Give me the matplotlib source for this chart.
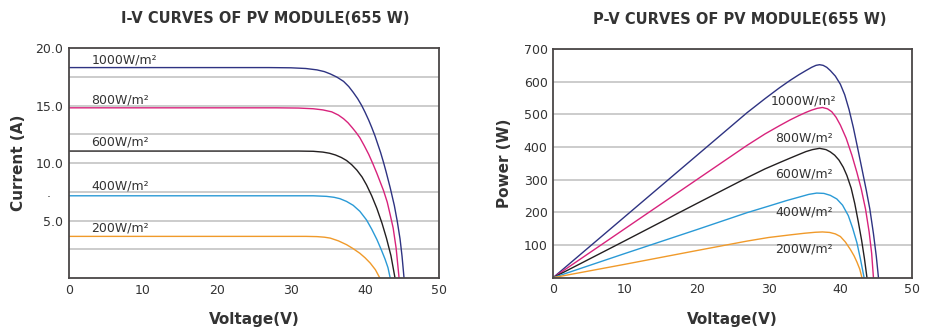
import matplotlib
matplotlib.use("Agg")
import matplotlib.pyplot as plt
import numpy as np

# irradiance levels and colours
levels = ["1000W/m²", "800W/m²", "600W/m²", "400W/m²", "200W/m²"]
colors = ["#2e3382", "#d8237c", "#231f20", "#2a9ad6", "#f09a2a"]

# I-V curves
iv_v1000 = [0, 27, 30, 32, 33.5, 34.5, 35.3, 36.2, 37.1, 37.8, 38.4, 39.0, 39.55, 40.0, 40.5, 40.9,
            41.35, 41.7, 42.1, 42.5, 42.84, 43.4, 43.96, 44.35, 44.73, 45.0, 45.27]
iv_i1000 = [18.3, 18.3, 18.28, 18.22, 18.1, 17.95, 17.75, 17.47, 17.1, 16.65, 16.15, 15.6, 15.0, 14.42,
            13.72, 13.1, 12.35, 11.68, 10.92, 10.05, 9.25, 7.85, 6.3, 4.95, 3.4, 1.9, 0]
iv_v800 = [0, 28, 31, 33, 34.3, 35.5, 36.4, 37.1, 37.7, 38.3, 38.8, 39.3, 39.9, 40.5, 41.05, 41.6,
           42.05, 42.5, 43.0, 43.4, 43.8, 44.2, 44.6]
iv_i800 = [14.8, 14.8, 14.78, 14.72, 14.62, 14.45, 14.17, 13.85, 13.5, 13.05, 12.65, 12.2, 11.5, 10.75,
           9.95, 9.1, 8.35, 7.6, 6.6, 5.5, 4.35, 2.6, 0]
iv_v600 = [0, 31, 33, 34.3, 35.2, 36.0, 36.8, 37.5, 38.2, 38.9, 39.6, 40.2, 40.9, 41.6, 42.3, 42.9,
           43.5, 44.05]
iv_i600 = [11.04, 11.04, 11.02, 10.95, 10.85, 10.7, 10.48, 10.22, 9.85, 9.38, 8.78, 8.1, 7.15, 6.05,
           4.75, 3.45, 1.95, 0]
iv_v400 = [0, 33, 34.8, 35.8, 36.6, 37.5, 38.4, 39.3, 40.2, 40.9, 41.6, 42.2, 42.7, 43.1, 43.4]
iv_i400 = [7.15, 7.15, 7.1, 7.02, 6.9, 6.66, 6.32, 5.8, 5.05, 4.25, 3.35, 2.45, 1.65, 0.9, 0]
iv_v200 = [0, 32, 33.5, 34.5, 35.3, 36.4, 37.5, 38.4, 39.3, 40.0, 40.7, 41.4, 42.0]
iv_i200 = [3.62, 3.62, 3.6, 3.55, 3.47, 3.23, 2.9, 2.55, 2.15, 1.76, 1.3, 0.72, 0]

# P-V curves
pv_v1000 = [0, 10, 20, 27, 29.5, 31.5, 33, 34.2, 35.2, 36.0, 36.6, 37.1, 37.6, 38.1, 38.6, 39.3, 40.0,
            40.6, 41.2, 41.8, 42.4, 43.0, 43.6, 44.1, 44.6, 45.0, 45.3]
pv_p1000 = [0, 187, 374, 505, 548, 581, 604, 621, 634, 644, 650, 652, 650, 644, 634, 617, 592,
            560, 515, 460, 397, 333, 268, 210, 135, 65, 0]
pv_v800 = [0, 10, 20, 27, 29.5, 31.5, 33, 34.2, 35.2, 36.0, 36.8, 37.5, 38.2, 38.8, 39.4, 40.0, 40.8,
           41.6, 42.3, 42.9, 43.5, 44.0, 44.35, 44.6]
pv_p800 = [0, 150, 300, 405, 440, 465, 483, 496, 506, 513, 518.5, 521, 517, 508, 491, 467, 427,
           375, 322, 272, 210, 140, 75, 0]
pv_v600 = [0, 10, 20, 27, 29.5, 31.5, 33, 34.2, 35.2, 36.1, 37.1, 38.0, 38.6, 39.2, 39.8, 40.4, 40.9,
           41.5, 42.0, 42.5, 42.95, 43.35, 43.7]
pv_p600 = [0, 113, 227, 306, 333, 352, 366, 377, 386, 392, 396, 392, 385, 375, 360, 338, 313,
           274, 227, 170, 115, 58, 0]
pv_v400 = [0, 10, 20, 27, 30, 32.5, 34.3, 35.6, 36.7, 37.7, 38.6, 39.5, 40.3, 41.1, 41.7, 42.3, 42.8, 43.3]
pv_p400 = [0, 74, 147, 199, 219, 236, 247, 255, 259, 258, 252, 241, 222, 190, 152, 107, 56, 0]
pv_v200 = [0, 10, 20, 27, 30, 33, 35, 36.5, 37.5, 38.5, 39.3, 40.0, 40.7, 41.4, 41.9, 42.3, 42.7, 43.0]
pv_p200 = [0, 41, 83, 112, 123, 131, 136, 139, 140, 138.5, 134, 126, 109, 86, 67, 48, 26, 0]

iv_v = [iv_v1000, iv_v800, iv_v600, iv_v400, iv_v200]
iv_i = [iv_i1000, iv_i800, iv_i600, iv_i400, iv_i200]
pv_v = [pv_v1000, pv_v800, pv_v600, pv_v400, pv_v200]
pv_p = [pv_p1000, pv_p800, pv_p600, pv_p400, pv_p200]

# label anchors
iv_label_y = [18.95, 15.5, 11.8, 8.0, 4.35]
pv_label_y = [542, 427, 317, 202, 87]

iv_yticks = [5, 7.5, 10, 15, 20]
iv_yticklabels = ["5.0", ".   ", "10.0", "15.0", "20.0"]
iv_grid = [2.5, 5, 7.5, 10, 12.5, 15, 17.5]
pv_yticks = [100, 200, 300, 400, 500, 600, 700]
xticks = [0, 10, 20, 30, 40, 50]

spine_c = "#4a4646"
text_c = "#333333"
grid_c = "#c8c8c8"

fig = plt.figure(figsize=(9.28, 3.29), dpi=100)
ax1 = fig.add_axes([0.0744, 0.155, 0.3987, 0.699])
ax2 = fig.add_axes([0.596, 0.156, 0.387, 0.695])

for ax in (ax1, ax2):
    for s in ax.spines.values():
        s.set_color(spine_c)
        s.set_linewidth(1.3)
    ax.tick_params(length=0, labelsize=9, colors=text_c, pad=4)
    ax.set_xlim(0, 50)
    ax.set_xticks(xticks)
    ax.set_axisbelow(True)
    ax.set_xlabel("Voltage(V)", fontsize=11, fontweight="bold", color=text_c, labelpad=11)

# I-V
ax1.set_ylim(0, 20)
ax1.set_yticks(iv_yticks)
ax1.set_yticklabels(iv_yticklabels)
for g in iv_grid:
    ax1.axhline(g, color=grid_c, linewidth=1.3, zorder=0)
for v, i, c, lab, ly in zip(iv_v, iv_i, colors, levels, iv_label_y):
    ax1.plot(v, i, color=c, linewidth=1.0)
    ax1.text(3.0, ly, lab, fontsize=9, color=text_c, va="center", ha="left")
ax1.set_ylabel("Current (A)", fontsize=11, fontweight="bold", color=text_c, labelpad=7)
ax1.set_title("I-V CURVES OF PV MODULE(655 W)", fontsize=10.5, fontweight="bold",
              color=text_c, pad=18, x=0.53)

# P-V
ax2.set_ylim(0, 700)
ax2.set_yticks(pv_yticks)
ax2.grid(axis="y", color=grid_c, linewidth=1.3)
for v, p, c, lab, ly in zip(pv_v, pv_p, colors, levels, pv_label_y):
    ax2.plot(v, p, color=c, linewidth=1.0)
    ax2.text(34.9, ly, lab, fontsize=9, color=text_c, va="center", ha="center")
ax2.set_ylabel("Power (W)", fontsize=11, fontweight="bold", color=text_c, labelpad=8)
ax2.set_title("P-V CURVES OF PV MODULE(655 W)", fontsize=10.5, fontweight="bold",
              color=text_c, pad=18, x=0.52)

fig.savefig("out.png", dpi=100)
